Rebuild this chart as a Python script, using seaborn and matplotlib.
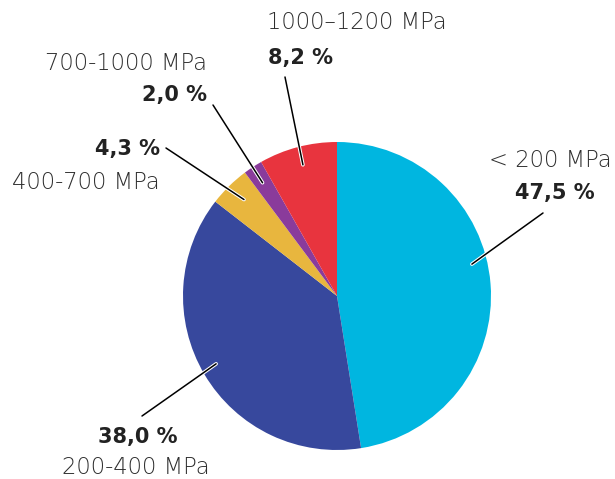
import matplotlib
matplotlib.use("Agg")
import matplotlib.pyplot as plt
import matplotlib.patheffects as pe
import seaborn as sns
import numpy as np

# ---- data ----
categories = ["< 200 MPa", "200-400 MPa", "400-700 MPa", "700-1000 MPa", "1000–1200 MPa"]
shares = [47.5, 38.0, 4.3, 2.0, 8.2]
share_labels = ["47,5 %", "38,0 %", "4,3 %", "2,0 %", "8,2 %"]
colors = ["#00B6E0", "#37489D", "#E8B63E", "#8A3B9B", "#E8343E"]

sns.set_theme(style="white")
plt.rcParams['font.family'] = ['DejaVu Sans']

W, H = 615, 479
fig = plt.figure(figsize=(6.15, 4.79), dpi=100)
ax = fig.add_axes([0, 0, 1, 1])

cx, cy, R = 337, H - 296, 154
wedges, _ = ax.pie(shares, colors=colors, startangle=90, counterclock=False,
                   center=(cx, cy), radius=R, wedgeprops=dict(linewidth=0))
ax.set_xlim(0, W)
ax.set_ylim(0, H)
ax.set_aspect('equal')
ax.axis('off')

# ---- label layout (pixel coords from top-left) ----
layout = [
    dict(name=(612, 160), nha="right", pct=(555, 193), pha="center", start=(543, 213), dang=8.8, rf=0.90),
    dict(name=(62, 467), nha="left", pct=(138, 437), pha="center", start=(142, 416), dang=-1.3, rf=0.90),
    dict(name=(160, 182), nha="right", pct=(160, 149), pha="right", start=(166, 148), dang=-0.5, rf=0.87),
    dict(name=(207, 63), nha="right", pct=(207, 95), pha="right", start=(213, 105), dang=0.2, rf=0.88),
    dict(name=(267, 22), nha="left", pct=(268, 58), pha="left", start=(285, 77), dang=-0.2, rf=0.88),
]

name_color = "#2e2e2e"
pct_color = "#222222"
stroke = [pe.Stroke(linewidth=2.6, foreground="white"), pe.Normal()]

for w, cat, lab, L in zip(wedges, categories, share_labels, layout):
    mid = np.deg2rad((w.theta1 + w.theta2) / 2 + L["dang"])
    ax_x = cx + L["rf"] * R * np.cos(mid)
    ax_y = cy + L["rf"] * R * np.sin(mid)
    sx, sy = L["start"]
    ax.plot([sx, ax_x], [H - sy, ax_y], color="black", lw=1.1,
            solid_capstyle="round", path_effects=stroke, zorder=5)
    nx, ny = L["name"]
    ax.text(nx, H - ny, cat, ha=L["nha"], va="center", fontsize=16.3,
            color=name_color, fontweight="light")
    px_, py_ = L["pct"]
    ax.text(px_, H - py_, lab, ha=L["pha"], va="center", fontsize=15,
            color=pct_color, fontweight="bold")

fig.savefig("out.png", dpi=100, facecolor="white")
